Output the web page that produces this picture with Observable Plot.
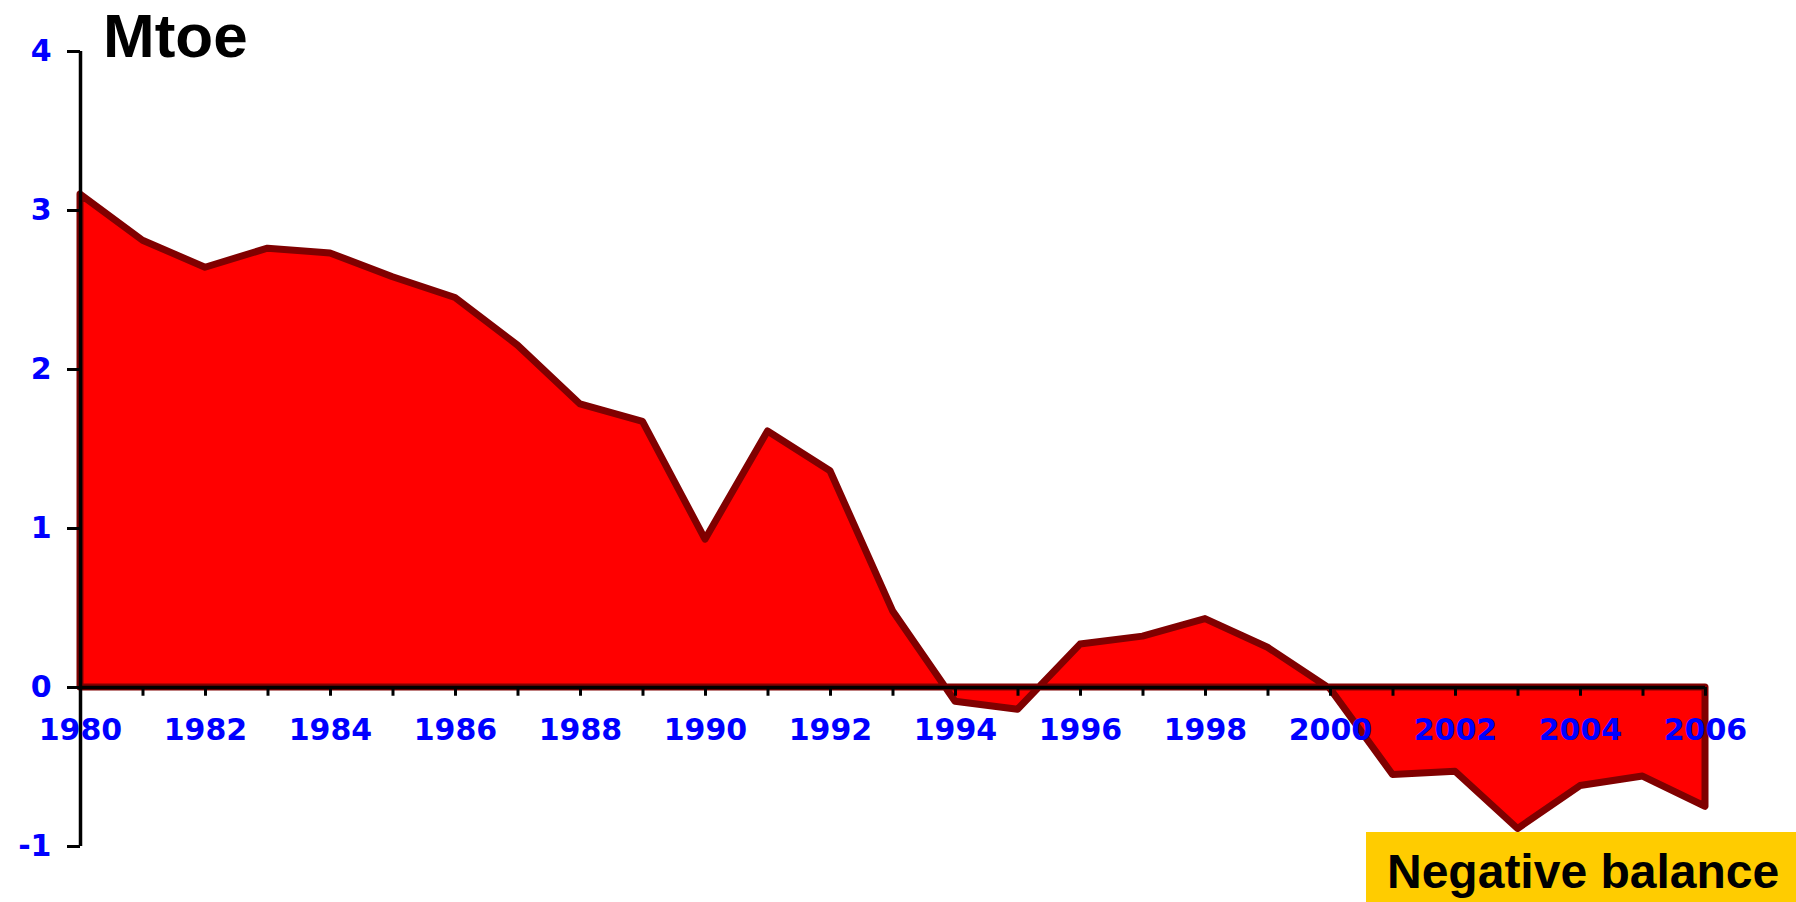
<!DOCTYPE html>
<html>
<head>
<meta charset="utf-8">
<script src="https://cdn.jsdelivr.net/npm/d3@7"></script>
<script src="https://cdn.jsdelivr.net/npm/@observablehq/plot@0.6"></script>
<style>
  html, body { margin: 0; padding: 0; background: #ffffff; }
  #chart { position: relative; width: 1796px; height: 902px; overflow: hidden; }
  #chart svg { display: block; }
  [aria-label="y-axis tick label"] { fill: #0000FF; font-family: "DejaVu Sans", sans-serif; font-weight: bold; font-size: 30px; }
  [aria-label="y-axis tick"] { stroke: #000000; stroke-width: 3px; }
</style>
</head>
<body>
<div id="chart"></div>
<script>
const years = [1980,1981,1982,1983,1984,1985,1986,1987,1988,1989,1990,1991,1992,1993,1994,1995,1996,1997,1998,1999,2000,2001,2002,2003,2004,2005,2006];
const values = [3.10,2.81,2.64,2.76,2.73,2.58,2.45,2.15,1.78,1.67,0.93,1.61,1.36,0.48,-0.09,-0.14,0.27,0.32,0.43,0.25,-0.01,-0.55,-0.53,-0.89,-0.62,-0.56,-0.75];
const yTicks = [-1,0,1,2,3,4];
const xLabelYears = [1980,1982,1984,1986,1988,1990,1992,1994,1996,1998,2000,2002,2004,2006];
const unitLabel = "Mtoe";
const noteLabel = "Negative balance";

const data = years.map((year, i) => ({year, value: values[i]}));

const plot = Plot.plot({
  width: 1796,
  height: 902,
  marginLeft: 80,
  marginRight: 91,
  marginTop: 51,
  marginBottom: 56,
  style: {background: "#ffffff", fontFamily: "'Liberation Sans', Arial, sans-serif"},
  x: {domain: [1980, 2006], axis: null},
  y: {domain: [-1, 4], axis: null},
  marks: [
    Plot.areaY(data, {x: "year", y: "value", fill: "#FF0000", stroke: "#800000", strokeWidth: 7, strokeLinejoin: "round"}),
    Plot.ruleY([0], {x1: 1980, x2: 2006, stroke: "#000000", strokeWidth: 3.5}),
    Plot.ruleX(years, {x: d => d, y1: 0, y2: -0.055, stroke: "#000000", strokeWidth: 3}),
    Plot.ruleX([1980], {y1: -1, y2: 4, stroke: "#000000", strokeWidth: 3.5}),
    Plot.axisY({ticks: yTicks, tickSize: 13, tickPadding: 16, tickFormat: d => String(d), fontSize: 30, label: null}),
    Plot.text(xLabelYears, {x: d => d, y: 0, dy: 43, text: d => String(d), fill: "#0000FF", fontSize: 30, fontWeight: "bold", fontFamily: "DejaVu Sans", textAnchor: "middle", lineAnchor: "middle"})
  ]
});

const svg = d3.select(plot);
svg.append("text")
  .attr("x", 103).attr("y", 57)
  .attr("text-anchor", "start")
  .style("font-family", "'Liberation Sans', Arial, sans-serif")
  .style("font-weight", "bold")
  .style("font-size", "62px")
  .attr("fill", "#000000")
  .text(unitLabel);
svg.append("rect")
  .attr("x", 1366).attr("y", 832).attr("width", 430).attr("height", 70)
  .attr("fill", "#FFCC00");
svg.append("text")
  .attr("x", 1387).attr("y", 888)
  .attr("text-anchor", "start")
  .style("font-family", "'Liberation Sans', Arial, sans-serif")
  .style("font-weight", "bold")
  .style("font-size", "48px")
  .attr("fill", "#000000")
  .text(noteLabel);

document.getElementById("chart").appendChild(plot);
</script>
</body>
</html>
